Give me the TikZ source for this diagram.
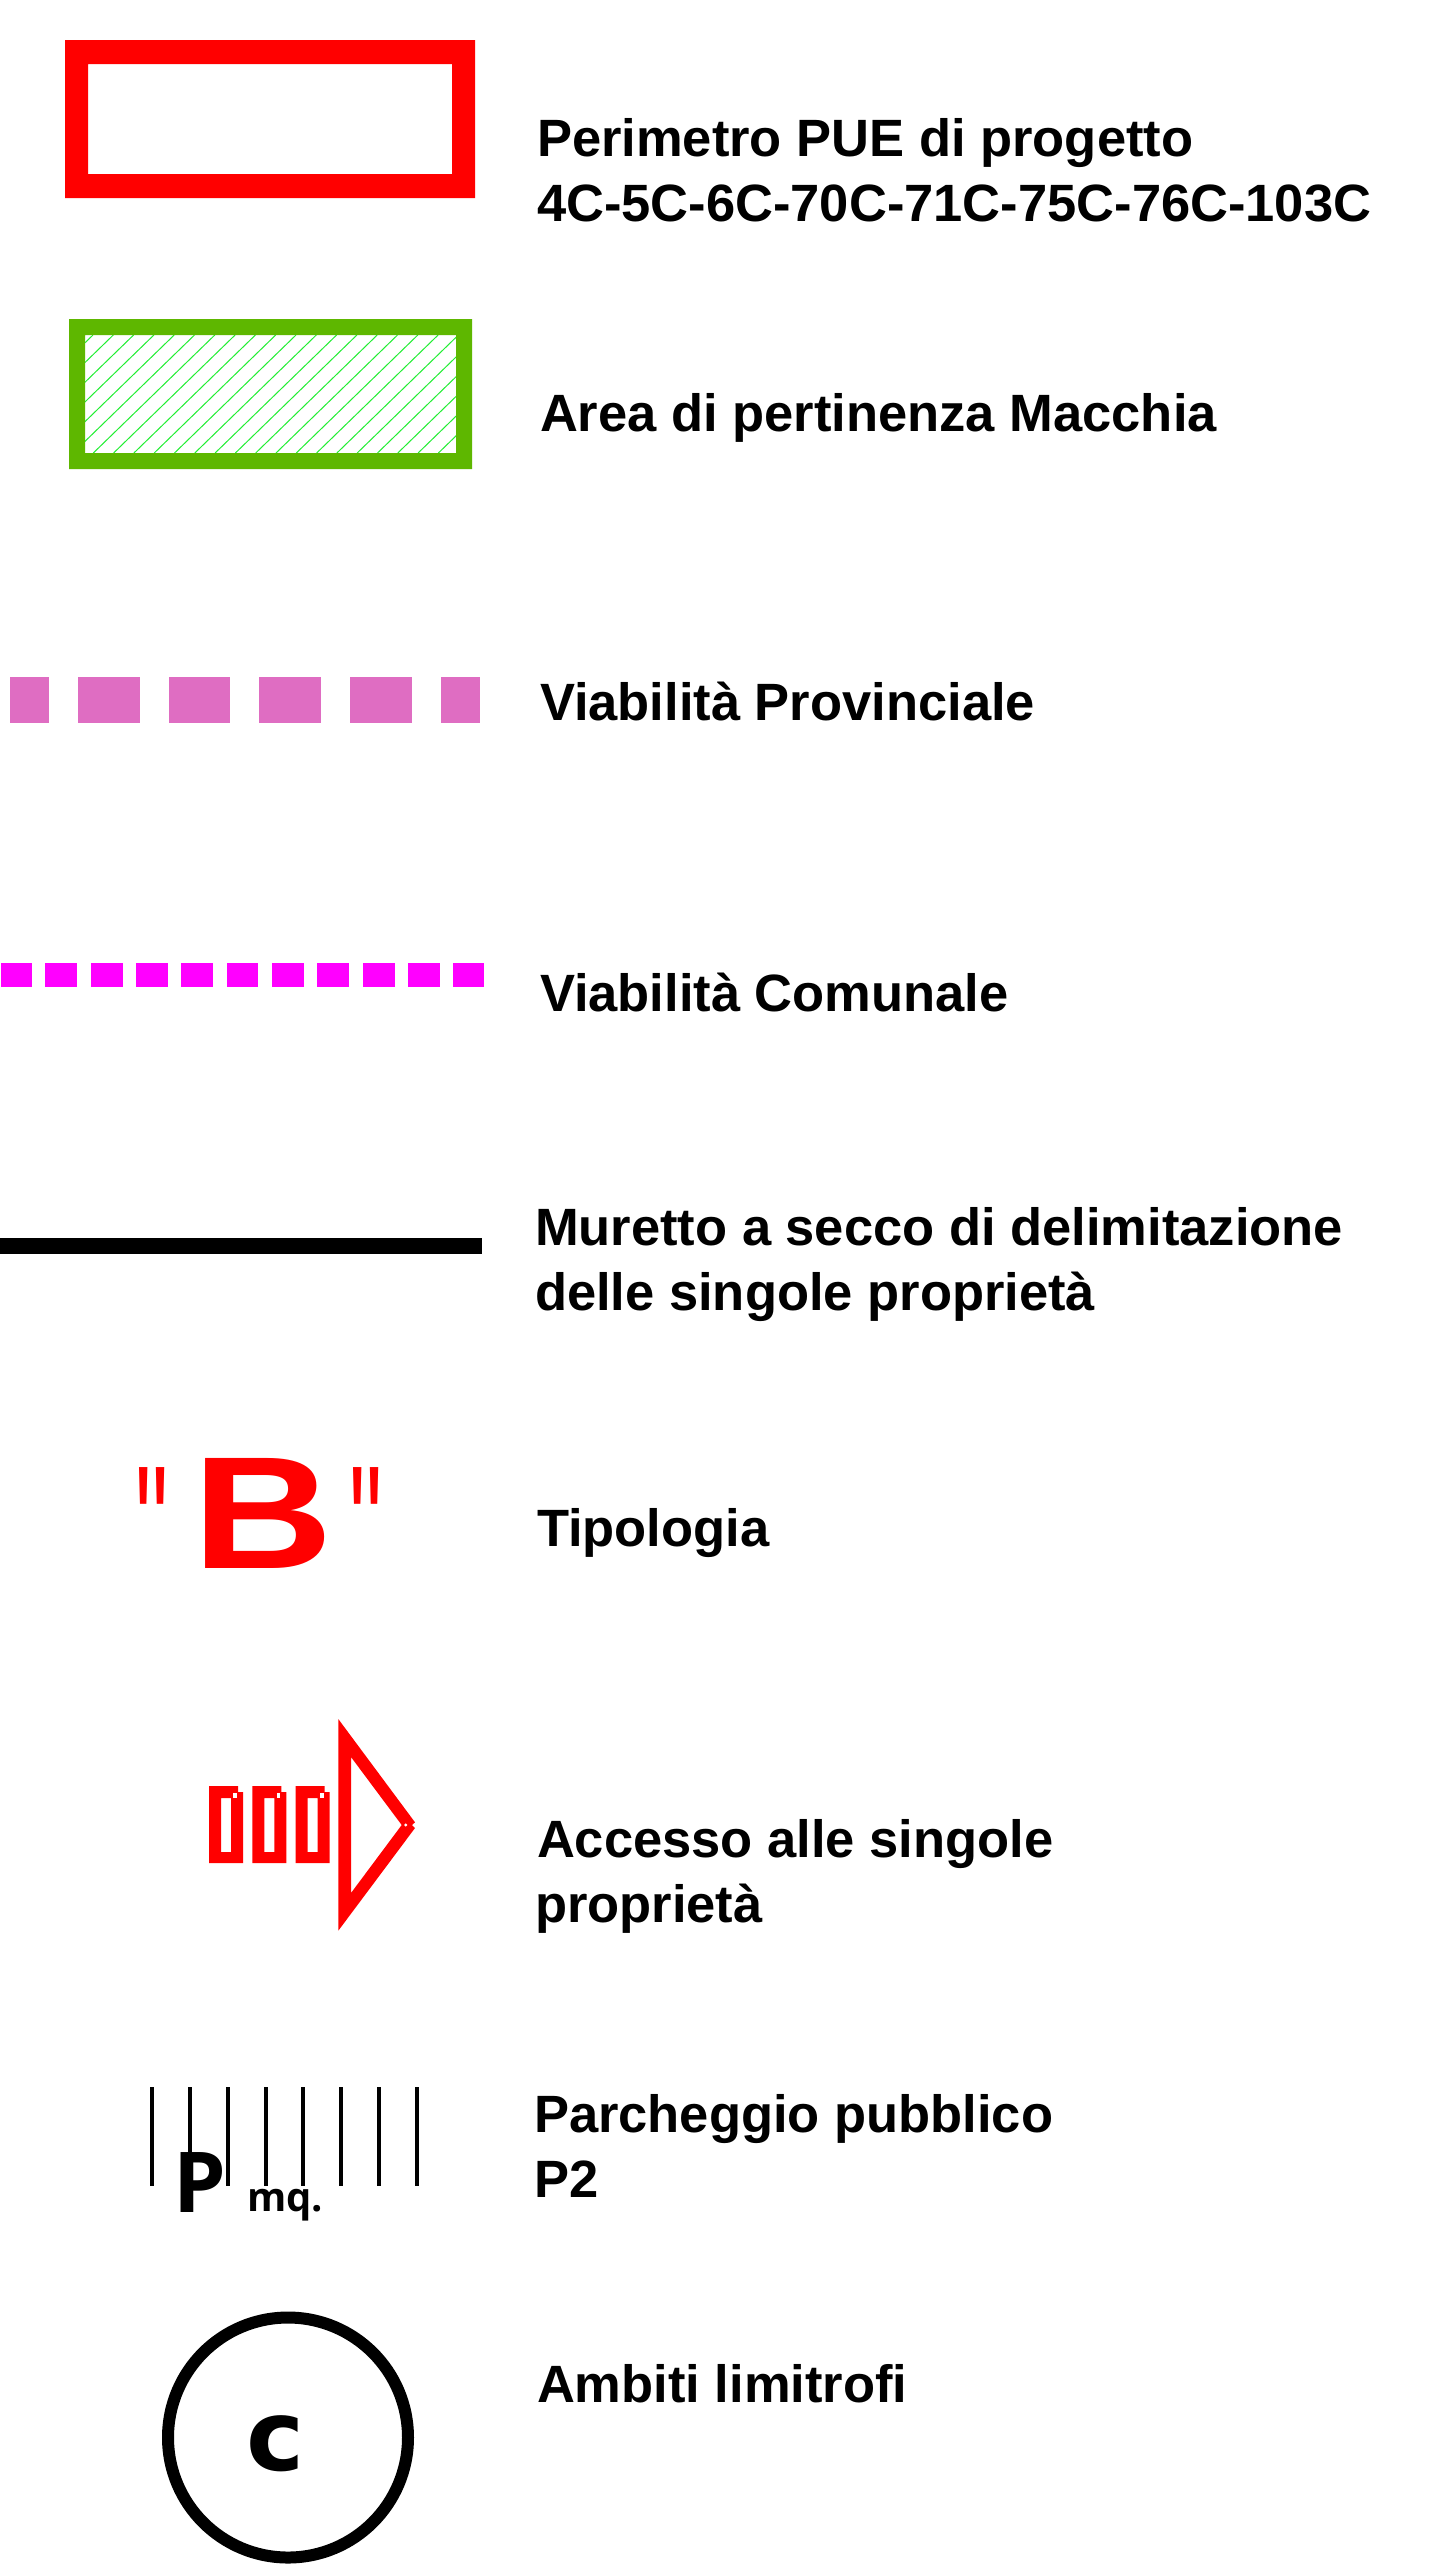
\documentclass[tikz,border=0pt]{standalone}
\usepackage{fontspec}
\setmainfont{Liberation Sans}
\newfontfamily\plainsans{Liberation Sans}
\newfontfamily\opn{Open Sans}
\newfontfamily\djv{DejaVu Sans}
\definecolor{frameRed}{HTML}{FF0000}
\definecolor{frameGreen}{HTML}{5EB700}
\definecolor{hatchGreen}{HTML}{22EE33}
\definecolor{roadPink}{HTML}{DF6DC2}
\definecolor{roadMagenta}{HTML}{FF00FF}
\tikzset{
  legendtext/.style={anchor=base west,inner sep=0pt,outer sep=0pt,align=left,text=black,
    font=\bfseries\fontsize{26.25}{32.25}\selectfont},
  glyph/.style={inner sep=0pt,outer sep=0pt,anchor=base west},
  parkline/.style={draw=black,line width=2pt},
  hatchline/.style={draw=hatchGreen,line width=0.5pt},
}
\begin{document}
\begin{tikzpicture}[x=0.5pt,y=-0.5pt]
\useasboundingbox[fill=white] (0,0) rectangle (1445,2571);
% red frame
\fill[frameRed,even odd rule] (65,40) rectangle (475,198) (88,64) rectangle (452,174);
% green hatched frame
\begin{scope}
\clip (85,335) rectangle (456,453);
\foreach \k in {-1,...,23}{
  \pgfmathsetmacro{\X}{113.3+20.3*\k}
  \draw[hatchline] (\X,335) -- (\X-121.5,453);
}
\end{scope}
\fill[frameGreen,even odd rule] (69,319) rectangle (472,469) (85,335) rectangle (456,453);
% provincial road
\foreach \a/\b in {10/49,78/140,169/230,259/321,350/412,441/480}
  \fill[roadPink] (\a,677.3) rectangle (\b,723.3);
% municipal road
\foreach \a/\b in {1/32,45/77,91/123,136/168,181/213,227/258,272/304,317/349,363/395,408/440,453/484}
  \fill[roadMagenta] (\a,963.3) rectangle (\b,986.7);
% dry wall
\fill[black] (0,1238.3) rectangle (482,1254.3);
% tipology symbol
\node[glyph,text=frameRed] (typeB) at (192,1568)
  {\fontsize{80}{80}\bfseries\selectfont\scalebox{1.22}[1]{B}};
\node[glyph,text=frameRed] (quoteL) at (135.5,1584)
  {\plainsans\fontsize{85}{85}\selectfont\scalebox{0.55}[1]{"}};
\node[glyph,text=frameRed] (quoteR) at (349.5,1584)
  {\plainsans\fontsize{85}{85}\selectfont\scalebox{0.55}[1]{"}};
% access symbol
\foreach \d in {0,43.3,86.6}{
  \begin{scope}[xshift=\d*0.5pt]
    \fill[frameRed,even odd rule] (209,1786) -- (238,1786) -- (238,1792) -- (243,1792) -- (243,1863) -- (209,1863) -- cycle
      (221,1798) rectangle (231,1852);
    \fill[white] (233.3,1793) rectangle (237,1798);
  \end{scope}
}
\fill[frameRed,even odd rule] (338.3,1719) -- (415,1822.3) -- (412,1825) -- (415,1828) -- (338.3,1930.7) -- cycle
  (351,1757) -- (401.7,1825) -- (351,1893) -- cycle;
\fill[white] (405.7,1825) circle[radius=1.6];
% parking symbol
\foreach \x in {152,189.7,227.7,265.7,303.3,341,379,416.7}
  \draw[parkline] (\x,2087) -- (\x,2186);
\node[glyph] (parkP) at (173.4,2212.7) {\opn\bfseries\fontsize{42}{42}\selectfont P};
\node[glyph] (parkM) at (247,2211.7) {\opn\bfseries\fontsize{20}{20}\selectfont mq.};
% neighbouring areas
\draw[black,line width=6pt] (288,2437.5) circle[radius=120];
\node[glyph] (areaC) at (246,2470) {\djv\bfseries\fontsize{49}{49}\selectfont c};
% legend texts
\node[legendtext] (t1) at (537,221) {Perimetro PUE di progetto\\4C-5C-6C-70C-71C-75C-76C-103C};
\node[legendtext] (t2) at (540,431) {Area di pertinenza Macchia};
\node[legendtext] (t3) at (540,720) {Viabilità Provinciale};
\node[legendtext] (t4) at (540,1011.5) {Viabilità Comunale};
\node[legendtext] (t5) at (535,1310) {Muretto a secco di delimitazione\\delle singole proprietà};
\node[legendtext] (t6) at (537,1546) {Tipologia};
\node[legendtext] (t7) at (537,1922) {Accesso alle singole\\\hspace*{-1pt}proprietà};
\node[legendtext] (t8) at (534,2197) {Parcheggio pubblico\\P2};
\node[legendtext] (t9) at (537,2402) {Ambiti limitrofi};
\end{tikzpicture}
\end{document}
